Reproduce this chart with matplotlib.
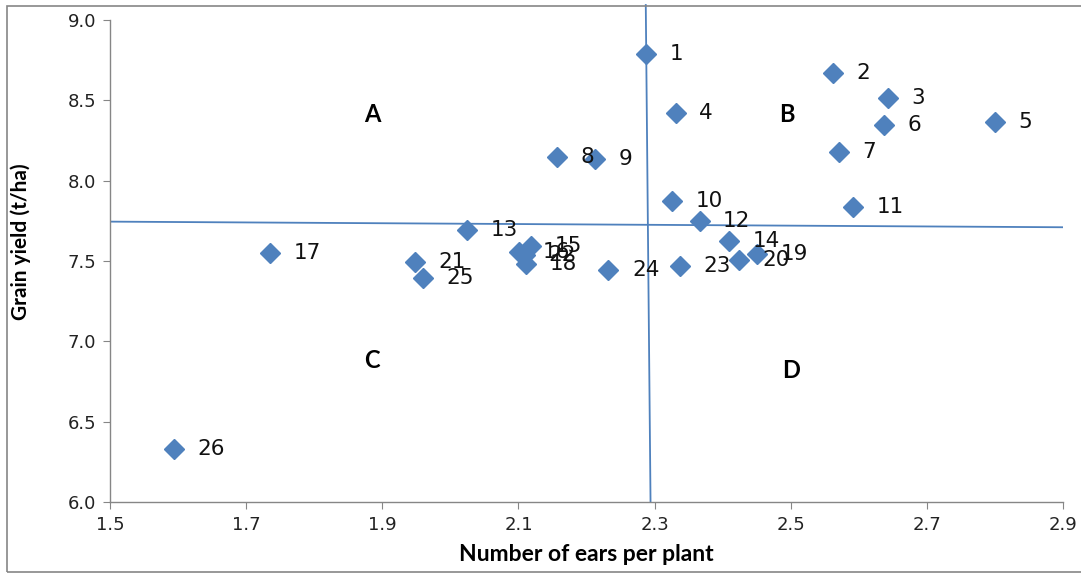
import matplotlib
matplotlib.use("Agg")
import matplotlib.pyplot as plt
from matplotlib.patches import Rectangle

# --- data: ears per plant vs grain yield, one point per genotype ---
genotypes = [str(i) for i in range(1, 27)]
ears = [2.287, 2.562, 2.643, 2.331, 2.800, 2.637, 2.571, 2.156, 2.212, 2.326,
        2.591, 2.366, 2.024, 2.409, 2.118, 2.101, 1.735, 2.111, 2.451, 2.424,
        1.948, 2.109, 2.337, 2.232, 1.960, 1.594]
yields = [8.79, 8.67, 8.515, 8.42, 8.365, 8.347, 8.179, 8.147, 8.135, 7.874,
          7.836, 7.749, 7.693, 7.625, 7.594, 7.556, 7.55, 7.482, 7.544, 7.507,
          7.494, 7.538, 7.469, 7.444, 7.395, 6.33]

# mean lines splitting the plot into quadrants
vline_x = [2.287, 2.294]
vline_y = [9.093, 6.0]
hline_x = [1.5, 2.9]
hline_y = [7.745, 7.71]

quad_names = ["A", "B", "C", "D"]
quad_x = [1.886, 2.494, 1.885, 2.500]
quad_y = [8.409, 8.409, 6.878, 6.816]

blue = "#4F81BD"
grey = "#868686"

fig = plt.figure(figsize=(10.81, 5.74), dpi=100)
ax = fig.add_axes([0.1018, 0.1254, 0.8816, 0.8398])

# outer chart frame
fig.patches.append(Rectangle((7 / 1081, 2 / 574), 1.1, 566 / 574,
                             transform=fig.transFigure, fill=False,
                             edgecolor=grey, linewidth=1.2, clip_on=False))

ax.plot(vline_x, vline_y, color=blue, lw=1.3, clip_on=False, zorder=2)
ax.plot(hline_x, hline_y, color=blue, lw=1.3, zorder=2)

ax.plot(ears, yields, linestyle="none", marker="D", markersize=10,
        color=blue, markeredgecolor=blue, zorder=3)
for name, x, y in zip(genotypes, ears, yields):
    ax.annotate(name, (x, y), xytext=(17, 0), textcoords="offset points",
                ha="left", va="center", fontsize=15.5, color="#111111", zorder=4)

for q, x, y in zip(quad_names, quad_x, quad_y):
    ax.text(x, y, q, ha="center", va="center", fontsize=17,
            fontweight="bold", family="Lato", color="black")

ax.set_xlim(1.5, 2.9)
ax.set_ylim(6.0, 9.0)
ax.set_xticks([1.5, 1.7, 1.9, 2.1, 2.3, 2.5, 2.7, 2.9])
ax.set_yticks([6.0, 6.5, 7.0, 7.5, 8.0, 8.5, 9.0])
ax.set_xticklabels(["1.5", "1.7", "1.9", "2.1", "2.3", "2.5", "2.7", "2.9"])
ax.set_yticklabels(["6.0", "6.5", "7.0", "7.5", "8.0", "8.5", "9.0"])

for s in ["top", "right"]:
    ax.spines[s].set_visible(False)
for s in ["left", "bottom"]:
    ax.spines[s].set_color(grey)
    ax.spines[s].set_linewidth(1.0)
ax.tick_params(direction="out", length=5, color=grey, labelsize=13,
               labelcolor="#222222", pad=5)

ax.set_xlabel("Number of ears per plant", fontsize=16.5, fontweight="bold",
              family="Lato")
ax.set_ylabel("Grain yield (t/ha)", fontsize=15, fontweight="bold",
              family="Lato")
ax.xaxis.set_label_coords(0.5, -0.088)
ax.yaxis.set_label_coords(-0.083, 0.54)

fig.savefig("out.png", dpi=100)
